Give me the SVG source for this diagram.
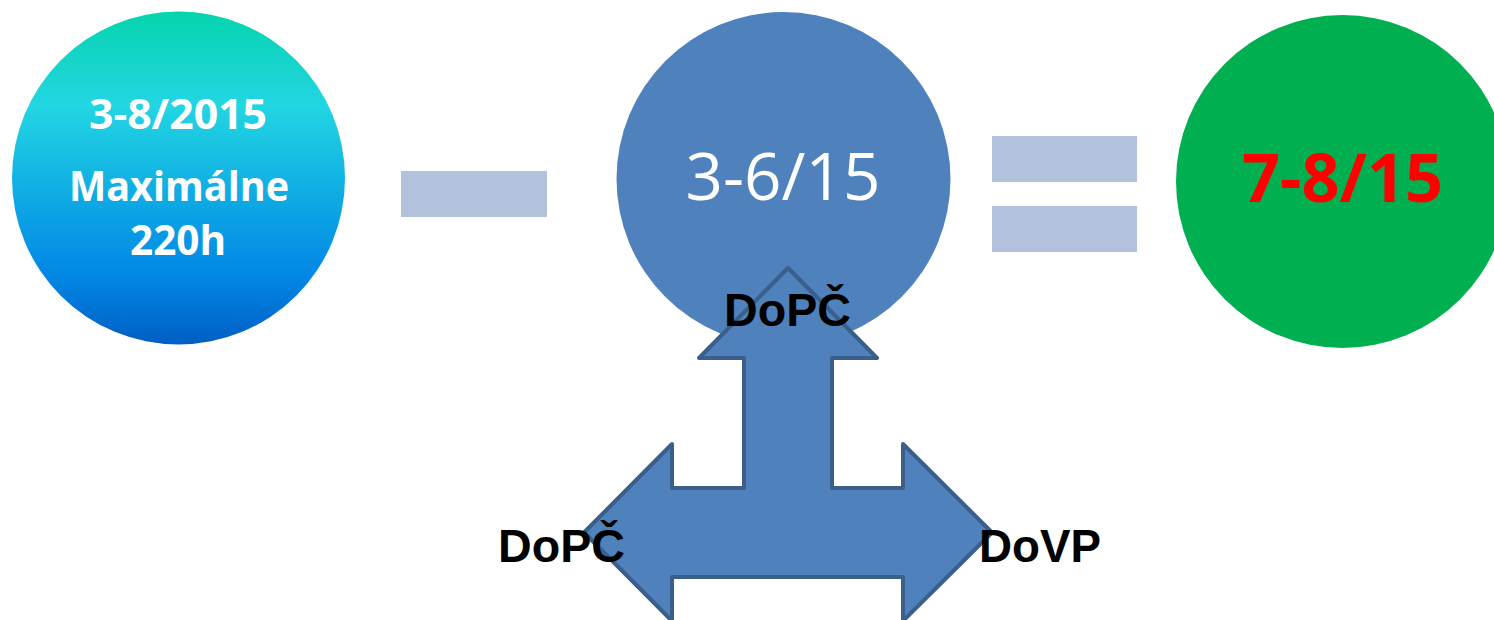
<svg xmlns="http://www.w3.org/2000/svg" width="1494" height="620" viewBox="0 0 1494 620">
<defs>
<linearGradient id="g1" x1="0" y1="0" x2="0" y2="1">
<stop offset="0" stop-color="#06d4ae"/>
<stop offset="0.28" stop-color="#22d6e2"/>
<stop offset="0.6" stop-color="#0ca4e4"/>
<stop offset="0.8" stop-color="#0286e4"/>
<stop offset="1" stop-color="#005ec4"/>
</linearGradient>
</defs>
<style>
.wb{font-family:"Open Sans","Noto Sans",sans-serif;font-weight:bold;fill:#fff;text-anchor:middle}
.lbl{font-family:"Liberation Sans",Arial,sans-serif;font-weight:bold;font-size:46px;fill:#000}
.bar{fill:#b3c2dc}
</style>
<rect width="1494" height="620" fill="#fff"/>
<g id="left-circle">
<circle cx="178.5" cy="178" r="166.5" fill="url(#g1)"/>
<text class="wb" x="178" y="129" font-size="42" textLength="178" lengthAdjust="spacingAndGlyphs">3-8/2015</text>
<text class="wb" x="179" y="201" font-size="41" textLength="220" lengthAdjust="spacingAndGlyphs">Maximálne</text>
<text class="wb" x="178" y="255" font-size="41" textLength="96" lengthAdjust="spacingAndGlyphs">220h</text>
</g>
<g id="minus">
<rect class="bar" x="401" y="171" width="146" height="46"/>
</g>
<g id="middle-circle">
<circle cx="783.5" cy="179" r="167" fill="#4f81bd"/>
<text x="783" y="200" font-family="'Open Sans','Noto Sans',sans-serif" font-size="65" fill="#fff" text-anchor="middle" textLength="195" lengthAdjust="spacingAndGlyphs">3-6/15</text>
</g>
<g id="equals">
<rect class="bar" x="992" y="136" width="145" height="46"/>
<rect class="bar" x="992" y="206" width="145" height="46"/>
</g>
<g id="right-circle">
<circle cx="1342.5" cy="181.5" r="166.5" fill="#00b050"/>
<text x="1342.5" y="202" font-family="'Open Sans','Noto Sans',sans-serif" font-weight="bold" font-size="66" fill="#ff0000" text-anchor="middle" textLength="201" lengthAdjust="spacingAndGlyphs">7-8/15</text>
</g>
<g id="connectors">
<polygon id="tri-arrow" points="788,268 877,358 832,358 832,488 903,488 903,444 992,532.5 903,621 903,577 672,577 672,621 584,532.5 672,444 672,488 744,488 744,358 699,358" fill="#4f81bd" stroke="#3a5f8b" stroke-width="4" stroke-linejoin="round"/>
</g>
<g id="labels">
<text class="lbl" x="724" y="325.5" textLength="127" lengthAdjust="spacingAndGlyphs">DoPČ</text>
<text class="lbl" x="498" y="562" textLength="127" lengthAdjust="spacingAndGlyphs">DoPČ</text>
<text class="lbl" x="979" y="562" textLength="122" lengthAdjust="spacingAndGlyphs">DoVP</text>
</g>
</svg>
